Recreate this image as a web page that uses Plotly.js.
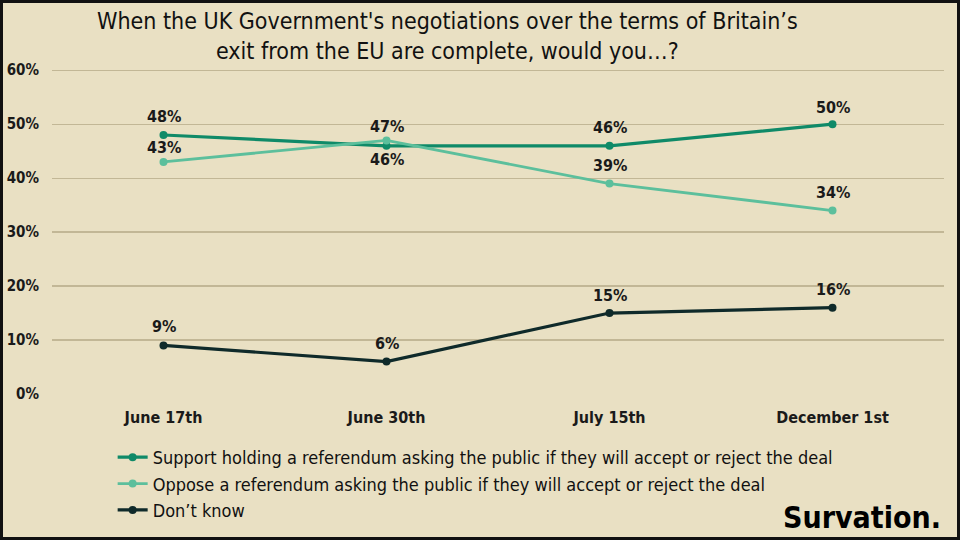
<!DOCTYPE html>
<html>
<head>
<meta charset="utf-8">
<script src="https://cdn.plot.ly/plotly-3.0.1.min.js"></script>
<style>html,body{margin:0;padding:0;background:#e9e0c3;}#chart{width:960px;height:540px;}</style>
</head>
<body>
<div id="chart"></div>
<script>
const categories = ["June 17th", "June 30th", "July 15th", "December 1st"];
const supportVals = [48, 46, 46, 50];
const opposeVals = [43, 47, 39, 34];
const dontKnowVals = [9, 6, 15, 16];
const seriesNames = [
  "Support holding a referendum asking the public if they will accept or reject the deal",
  "Oppose a referendum asking the public if they will accept or reject the deal",
  "Don\u2019t know"
];
const yTickVals = [0, 10, 20, 30, 40, 50, 60];
const yTickText = ["0%", "10%", "20%", "30%", "40%", "50%", "60%"];

const FONT = "'Liberation Sans Narrow', 'DejaVu Sans Condensed', 'Roboto Condensed', sans-serif";
const COLORS = ["#0f8a68", "#5cbf9c", "#0f2a2a"];
const seriesVals = [supportVals, opposeVals, dontKnowVals];
// vertical label offsets (px) per series/point
const labelShift = [[18, -14, 18, 17], [14, 14, 18, 18], [19, 18, 18, 18]];

const traces = seriesVals.map((vals, i) => ({
  x: categories, y: vals, name: seriesNames[i], type: "scatter", mode: "lines+markers",
  line: {color: COLORS[i], width: i === 1 ? 2.8 : 3.2},
  marker: {color: COLORS[i], size: 8}
}));

const labelAnns = [];
seriesVals.forEach((vals, i) => {
  vals.forEach((v, j) => {
    labelAnns.push({
      x: categories[j], y: v, xref: "x", yref: "y", text: "<b>" + v + "%</b>",
      showarrow: false, yanchor: "middle", xanchor: "center", yshift: labelShift[i][j],
      font: {family: FONT, size: 16, color: "#1a1a1a"}
    });
  });
});

const layout = {
  width: 960, height: 540,
  paper_bgcolor: "#e9e0c3", plot_bgcolor: "#e9e0c3",
  margin: {l: 52, r: 16, t: 67, b: 145},
  font: {family: FONT, color: "#1a1a1a"},
  xaxis: {
    type: "category", range: [-0.5, 3.5], showgrid: false, zeroline: false, showline: false,
    tickfont: {family: FONT, size: 16, color: "#1a1a1a", weight: "bold"}, ticks: "",
    ticklabelstandoff: 12
  },
  yaxis: {
    range: [0, 60.6], tickvals: yTickVals, ticktext: yTickText,
    showgrid: true, gridcolor: "#c2b796", gridwidth: 1.3,
    zeroline: false, showline: false, ticks: "", ticklabelstandoff: 12,
    tickfont: {family: FONT, size: 15, color: "#1a1a1a", weight: "bold"}
  },
  showlegend: true,
  legend: {
    x: 0.068, xanchor: "left", y: -0.134, yanchor: "top", orientation: "v",
    bgcolor: "rgba(0,0,0,0)", font: {family: FONT, size: 18, color: "#111"},
    tracegroupgap: 0, itemwidth: 30
  },
  annotations: [
    {text: "When the UK Government's negotiations over the terms of Britain\u2019s<br>exit from the EU are complete, would you\u2026?",
     xref: "paper", yref: "paper", x: (447 - 52) / 892, xanchor: "center", y: 1.186, yanchor: "top",
     showarrow: false, font: {family: FONT, size: 23, color: "#111"}},
    {text: "<b>Survation.</b>", xref: "paper", yref: "paper", x: 0.999, xanchor: "right", y: -0.436, yanchor: "bottom",
     showarrow: false, font: {family: FONT, size: 30, color: "#000"}}
  ].concat(labelAnns)
};

Plotly.newPlot("chart", traces, layout, {displayModeBar: false, staticPlot: true}).then(() => {
  const ns = "http://www.w3.org/2000/svg";
  const r = document.createElementNS(ns, "rect");
  r.setAttribute("x", 1.5); r.setAttribute("y", 1.5);
  r.setAttribute("width", 957); r.setAttribute("height", 537);
  r.setAttribute("fill", "none"); r.setAttribute("stroke", "#111"); r.setAttribute("stroke-width", 3);
  document.querySelectorAll("#chart svg.main-svg")[1].appendChild(r);
});
</script>
</body>
</html>
